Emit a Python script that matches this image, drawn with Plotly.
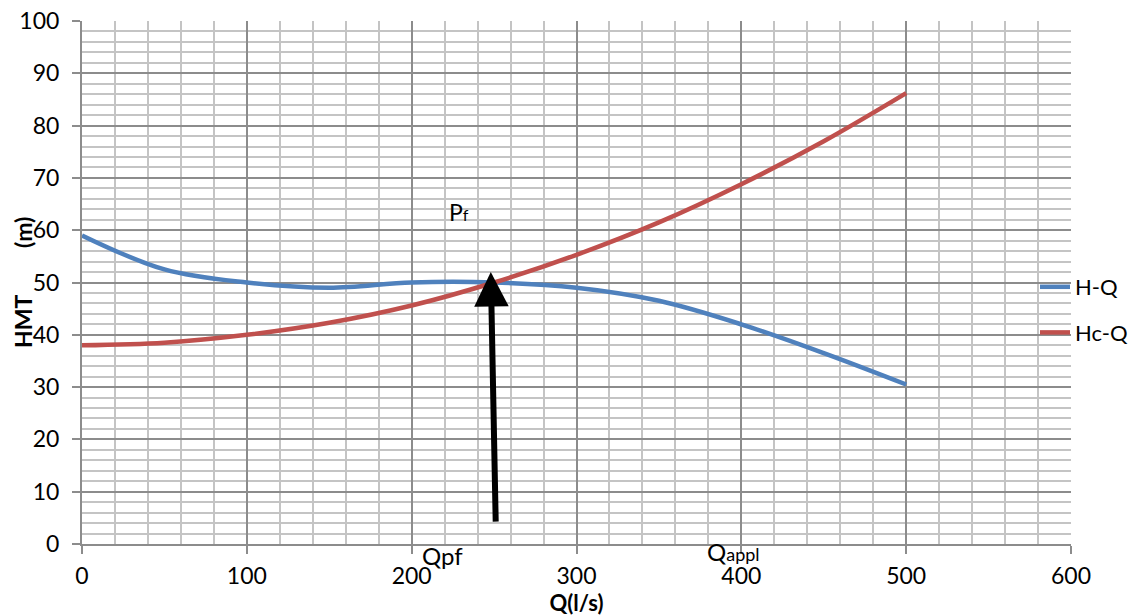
import plotly.graph_objects as go

q = [0, 50, 100, 150, 200, 250, 300, 350, 400, 450, 500]
h_pump = [59, 52.5, 50, 49, 50, 50, 49, 46.5, 42, 36.5, 30.5]
h_system = [38, 38.5, 40, 42.3, 45.6, 50, 55.3, 61.5, 68.8, 77, 86.2]

x_ticks = [0, 100, 200, 300, 400, 500, 600]
y_ticks = [0, 10, 20, 30, 40, 50, 60, 70, 80, 90, 100]

FONT = "Lato"
FS = 23

L, R, T, B = 82, 62, 21, 72
PW, PH = 1133 - L - R, 616 - T - B


def px(xp):
    return (xp - L) / PW


def py(yp):
    return (616 - B - yp) / PH


fig = go.Figure()
fig.add_trace(go.Scatter(x=q, y=h_pump, mode="lines", name="H-Q",
                         line=dict(color="#4F81BD", width=4.5, shape="spline"),
                         legendgroup="a"))
fig.add_trace(go.Scatter(x=q, y=h_system, mode="lines", name="Hc-Q",
                         line=dict(color="#C0504D", width=4.5, shape="spline"),
                         legendgroup="b"))

# operating point arrow
fig.add_annotation(x=248, y=52, ax=251, ay=4, xref="x", yref="y", axref="x", ayref="y",
                   showarrow=True, arrowhead=2, arrowsize=1.15, arrowwidth=6,
                   arrowcolor="black", text="")
fig.add_annotation(x=px(459), y=py(212), xref="paper", yref="paper", showarrow=False,
                   xanchor="center", yanchor="middle",
                   text="P<span style='font-size:16px'>f</span>",
                   font=dict(family=FONT, size=FS, color="black"))
fig.add_annotation(x=px(442), y=py(555), xref="paper", yref="paper", showarrow=False,
                   xanchor="center", yanchor="middle",
                   text="Qpf", font=dict(family=FONT, size=24, color="black"))
fig.add_annotation(x=px(733), y=py(551), xref="paper", yref="paper", showarrow=False,
                   xanchor="center", yanchor="middle",
                   text="Q<span style='font-size:18px'>appl</span>",
                   font=dict(family=FONT, size=24, color="black"))
# y axis title (two parts, as in the original)
fig.add_annotation(x=px(23), y=py(322), xref="paper", yref="paper", showarrow=False,
                   xanchor="center", yanchor="middle",
                   text="<b>HMT</b>", textangle=-90,
                   font=dict(family=FONT, size=23, color="black"))
fig.add_annotation(x=px(23), y=py(233), xref="paper", yref="paper", showarrow=False,
                   xanchor="center", yanchor="middle",
                   text="<b>(m)</b>", textangle=-90,
                   font=dict(family=FONT, size=23, color="black"))

fig.update_layout(
    width=1133, height=616,
    margin=dict(l=L, r=R, t=T, b=B, autoexpand=False),
    paper_bgcolor="white", plot_bgcolor="white",
    font=dict(family=FONT, size=FS, color="black"),
    showlegend=True,
    legend=dict(x=px(1035), y=py(310), xanchor="left", yanchor="middle",
                font=dict(family=FONT, size=22, color="black"),
                tracegroupgap=14, bgcolor="rgba(0,0,0,0)"),
    xaxis=dict(range=[0, 600], tickvals=x_ticks, showgrid=True,
               gridcolor="#8c8c8c", gridwidth=2, zeroline=False,
               showline=True, linecolor="#8c8c8c", linewidth=2,
               ticks="outside", ticklen=8, tickcolor="#8c8c8c", tickwidth=2,
               ticklabelstandoff=2,
               minor=dict(dtick=20, showgrid=True, gridcolor="#c4c4c4", gridwidth=2),
               title=dict(text="<b>Q(l/s)</b>", standoff=2,
                          font=dict(family=FONT, size=22, color="black")),
               tickfont=dict(family=FONT, size=FS, color="black")),
    yaxis=dict(range=[0, 100], tickvals=y_ticks, showgrid=True,
               gridcolor="#8c8c8c", gridwidth=2, zeroline=False,
               showline=True, linecolor="#8c8c8c", linewidth=2,
               ticks="outside", ticklen=8, tickcolor="#8c8c8c", tickwidth=2,
               ticklabelstandoff=8,
               minor=dict(dtick=2, showgrid=True, gridcolor="#c4c4c4", gridwidth=2),
               tickfont=dict(family=FONT, size=FS, color="black")),
)

fig.write_html("out.html")
